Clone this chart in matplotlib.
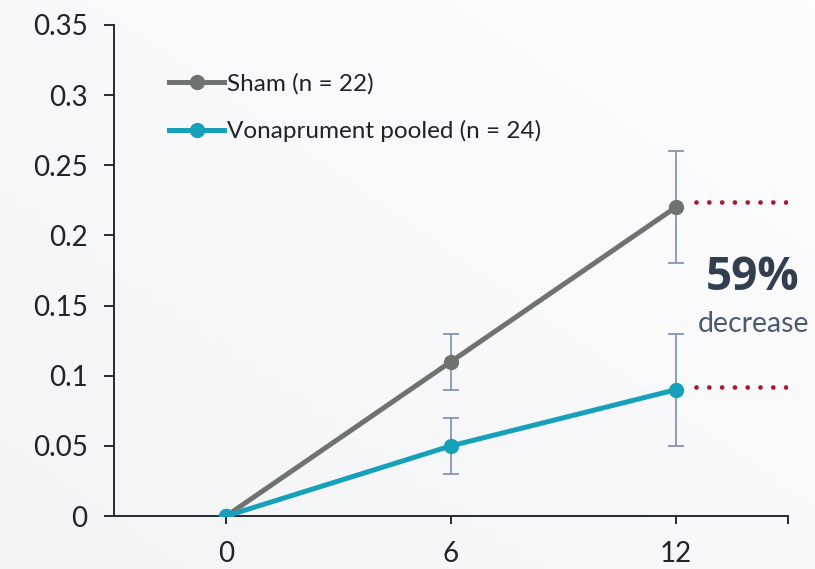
import matplotlib.pyplot as plt
import numpy as np

# Datos
semanas = [0, 6, 12]
etiquetas_x = ["0", "6", "12"]
sham = [0.0, 0.11, 0.22]
sham_inf = [0.0, 0.09, 0.18]
sham_sup = [0.0, 0.13, 0.26]
vona = [0.0, 0.05, 0.09]
vona_inf = [0.0, 0.03, 0.05]
vona_sup = [0.0, 0.07, 0.13]
nivel_sham = 0.224
nivel_vona = 0.092

GRIS = "#6f7370"
TURQUESA = "#17a0ba"
ERROR = "#8496b0"
ROJO = "#a6192e"
NAVY = "#333f50"

plt.rcParams['font.family'] = ['Lato', 'DejaVu Sans']

fig = plt.figure(figsize=(8.15, 5.69), dpi=100)

# Fondo con degradado suave
fondo = fig.add_axes([0, 0, 1, 1], zorder=-1)
gx, gy = np.meshgrid(np.linspace(0, 1, 200), np.linspace(0, 1, 200))
grad = 0.5 * gx + 0.5 * (1 - gy)
fondo.imshow(grad, cmap=plt.matplotlib.colors.LinearSegmentedColormap.from_list(
    "f", ["#f3f4f6", "#fdfdfe"]), aspect="auto", extent=[0, 1, 0, 1])
fondo.axis("off")

ax = fig.add_axes([0.1398, 0.0931, 0.827, 0.863])
ax.patch.set_alpha(0)

# Barras de error
ax.errorbar(semanas[1:], sham[1:],
            yerr=[np.subtract(sham, sham_inf)[1:], np.subtract(sham_sup, sham)[1:]],
            fmt="none", ecolor=ERROR, elinewidth=1.3, capsize=6, capthick=1.3, zorder=2)
ax.errorbar(semanas[1:], vona[1:],
            yerr=[np.subtract(vona, vona_inf)[1:], np.subtract(vona_sup, vona)[1:]],
            fmt="none", ecolor=ERROR, elinewidth=1.3, capsize=6, capthick=1.3, zorder=2)

ax.plot(semanas, sham, color=GRIS, linewidth=3.6, marker="o", markersize=10,
        label="Sham (n = 22)", zorder=3)
ax.plot(semanas, vona, color=TURQUESA, linewidth=3.6, marker="o", markersize=10,
        label="Vonaprument pooled (n = 24)", zorder=4)

# Lineas punteadas
ax.plot([12.55, 14.95], [nivel_sham, nivel_sham], color=ROJO, linewidth=3.4,
        linestyle=(0, (0.01, 2.7)), dash_capstyle="round", zorder=3)
ax.plot([12.55, 14.95], [nivel_vona, nivel_vona], color=ROJO, linewidth=3.4,
        linestyle=(0, (0.01, 2.7)), dash_capstyle="round", zorder=3)

ax.text(14.07, 0.170, "59%", fontsize=33, fontweight="bold", color=NAVY,
        family=["Open Sans", "DejaVu Sans"], ha="center", va="center")
ax.text(14.07, 0.137, "decrease", fontsize=20.5, color="#4d5a6e",
        ha="center", va="center")

ax.set_xlim(-3, 15)
ax.set_ylim(0, 0.35)
ax.set_xticks(semanas + [15])
ax.set_xticklabels(etiquetas_x + [""])
ax.set_yticks(np.arange(0, 0.351, 0.05))
ax.set_yticklabels(["0", "0.05", "0.1", "0.15", "0.2", "0.25", "0.3", "0.35"])

for s in ["top", "right"]:
    ax.spines[s].set_visible(False)
for s in ["left", "bottom"]:
    ax.spines[s].set_color("#262a33")
    ax.spines[s].set_linewidth(1.4)

ax.tick_params(axis="y", length=7, width=1.4, color="#262a33", labelsize=20,
               labelcolor="#1f232b", pad=12)
ax.tick_params(axis="x", length=6, width=1.4, color="#262a33", labelsize=20,
               labelcolor="#1f232b", pad=12)

ax.legend(loc="upper left", bbox_to_anchor=(0.068, 0.922), frameon=False,
          fontsize=17.5, handlelength=2.25, handletextpad=0.12, labelspacing=1.05,
          borderaxespad=0, labelcolor="#1f232b")

fig.savefig("out.png", dpi=100)
